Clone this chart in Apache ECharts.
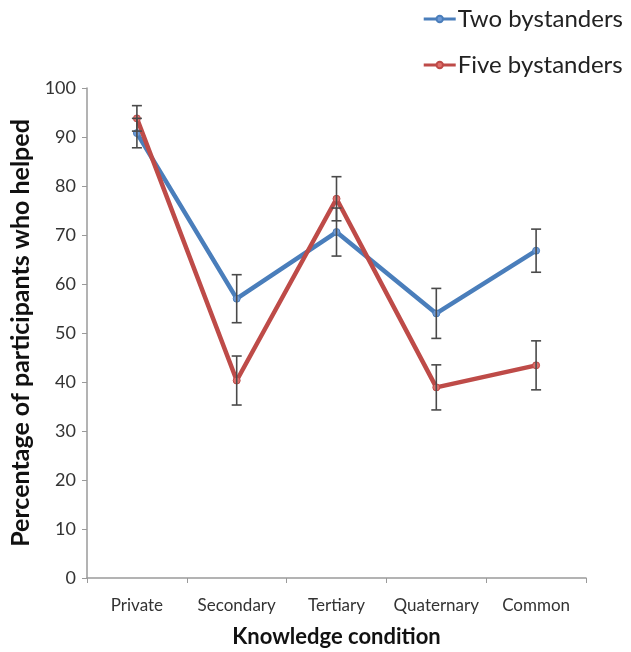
<!DOCTYPE html>
<html>
<head>
<meta charset="utf-8">
<script src="https://cdn.jsdelivr.net/npm/echarts@6/dist/echarts.min.js"></script>
<style>html,body{margin:0;padding:0;background:#fff}#c{width:631px;height:652px}</style>
</head>
<body>
<div id="c"></div>
<script>
var categories = ['Private', 'Secondary', 'Tertiary', 'Quaternary', 'Common'];
var twoValues = [90.8, 57.0, 70.6, 54.0, 66.8];
var twoErrors = [3.0, 4.9, 4.9, 5.1, 4.4];
var fiveValues = [93.8, 40.3, 77.4, 38.9, 43.4];
var fiveErrors = [2.6, 5.0, 4.5, 4.6, 5.0];
var yTicks = [0, 10, 20, 30, 40, 50, 60, 70, 80, 90, 100];

var FONT = 'Lato';
var BLUE = '#4a7ebb';
var RED = '#be4b48';

function errSeries(values, errors) {
  var data = values.map(function (v, i) { return [i, v - errors[i], v + errors[i]]; });
  return {
    type: 'custom',
    z: 10,
    silent: true,
    data: data,
    renderItem: function (params, api) {
      var lo = api.coord([api.value(0), api.value(1)]);
      var hi = api.coord([api.value(0), api.value(2)]);
      var w = 5;
      var st = { stroke: '#4a4a4a', lineWidth: 1.6 };
      return {
        type: 'group',
        children: [
          { type: 'line', shape: { x1: lo[0], y1: lo[1], x2: hi[0], y2: hi[1] }, style: st },
          { type: 'line', shape: { x1: lo[0] - w, y1: lo[1], x2: lo[0] + w, y2: lo[1] }, style: st },
          { type: 'line', shape: { x1: hi[0] - w, y1: hi[1], x2: hi[0] + w, y2: hi[1] }, style: st }
        ]
      };
    }
  };
}

var chart = echarts.init(document.getElementById('c'));
chart.setOption({
  backgroundColor: '#fff',
  animation: false,
  legend: {
    orient: 'vertical',
    right: 3,
    top: 0,
    itemWidth: 32,
    itemHeight: 8,
    itemGap: 18,
    lineStyle: { width: 3 },
    textStyle: { fontFamily: FONT, fontSize: 24, color: '#222', lineHeight: 28, padding: [0, 0, 0, -3] },
    data: ['Two bystanders', 'Five bystanders']
  },
  grid: { left: 87, right: 45, top: 88, bottom: 74, containLabel: false, outerBoundsMode: 'none' },
  xAxis: {
    type: 'category',
    data: categories,
    boundaryGap: true,
    name: 'Knowledge condition',
    nameLocation: 'middle',
    nameGap: 48,
    nameTextStyle: { fontFamily: FONT, fontSize: 22, fontWeight: 'bold', color: '#111' },
    axisLine: { lineStyle: { color: '#9a9a9a', width: 1.5 } },
    axisTick: { show: true, length: 5, lineStyle: { color: '#9a9a9a' } },
    axisLabel: { fontFamily: FONT, fontSize: 17, color: '#333', margin: 19, interval: 0 }
  },
  yAxis: {
    type: 'value',
    min: yTicks[0],
    max: yTicks[yTicks.length - 1],
    interval: 10,
    name: 'Percentage of participants who helped',
    nameLocation: 'middle',
    nameGap: 54,
    nameTextStyle: { fontFamily: FONT, fontSize: 25, fontWeight: 'bold', color: '#111' },
    axisLine: { show: true, lineStyle: { color: '#9a9a9a', width: 1.5 } },
    axisTick: { show: true, length: 5, lineStyle: { color: '#9a9a9a' } },
    splitLine: { show: false },
    axisLabel: { fontFamily: FONT, fontSize: 18, color: '#333', margin: 11 }
  },
  series: [
    {
      name: 'Two bystanders',
      type: 'line',
      data: twoValues,
      symbol: 'circle',
      symbolSize: 7,
      z: 3,
      lineStyle: { color: BLUE, width: 4.5 },
      itemStyle: { color: '#6f9ad6', borderColor: BLUE, borderWidth: 1 }
    },
    {
      name: 'Five bystanders',
      type: 'line',
      data: fiveValues,
      symbol: 'circle',
      symbolSize: 7,
      z: 4,
      lineStyle: { color: RED, width: 4.5 },
      itemStyle: { color: '#e0706c', borderColor: RED, borderWidth: 1 }
    },
    errSeries(twoValues, twoErrors),
    errSeries(fiveValues, fiveErrors)
  ]
});
</script>
</body>
</html>
